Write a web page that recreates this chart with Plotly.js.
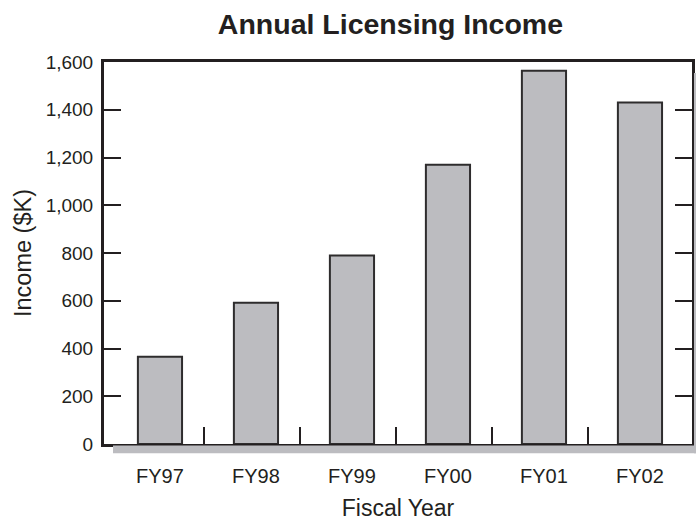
<!DOCTYPE html>
<html>
<head>
<meta charset="utf-8">
<script src="https://cdn.plot.ly/plotly-3.0.1.min.js"></script>
<style>html,body{margin:0;padding:0;background:#fff;}#chart{width:696px;height:523px;}</style>
</head>
<body>
<div id="chart"></div>
<script>
const categories = ["FY97", "FY98", "FY99", "FY00", "FY01", "FY02"];
const income = [365, 592, 790, 1170, 1563, 1430];
const yTickVals = [0, 200, 400, 600, 800, 1000, 1200, 1400, 1600];
const yTickText = ["0", "200", "400", "600", "800", "1,000", "1,200", "1,400", "1,600"];

const ink = "#231f20";
const grayFill = "#bcbcc0";
const fontFam = "Liberation Sans, Arial, Helvetica, sans-serif";

const xRange = [-0.583, 5.542];
const dividerTicks = categories.slice(0, -1).map((c, i) => i + 0.46);

const trace = {
  type: "bar",
  x: categories,
  y: income,
  marker: { color: grayFill, line: { color: "#2e2c2d", width: 2 } },
  hoverinfo: "x+y"
};
// invisible helper trace so the overlay axis (divider ticks) gets drawn
const helper = {
  type: "scatter", mode: "markers", x: [0], y: [0], xaxis: "x2",
  marker: { opacity: 0, size: 1 }, hoverinfo: "skip", showlegend: false
};

const layout = {
  width: 696,
  height: 523,
  margin: { l: 104, r: 4, t: 62, b: 79, pad: 0 },
  paper_bgcolor: "#ffffff",
  plot_bgcolor: "#ffffff",
  bargap: 0.54,
  showlegend: false,
  font: { family: fontFam, color: ink, size: 20 },
  title: {
    text: "<b>Annual Licensing Income</b>",
    font: { family: fontFam, size: 28.5, color: ink },
    x: 0.561, xanchor: "center",
    y: 0.954, yanchor: "middle", yref: "container"
  },
  xaxis: {
    type: "category",
    range: xRange,
    showgrid: false,
    zeroline: false,
    showline: true,
    linecolor: ink,
    linewidth: 3,
    mirror: true,
    ticks: "",
    ticklabelstandoff: 12,
    tickfont: { size: 20, color: ink },
    title: { text: "Fiscal Year", font: { size: 23, color: ink }, standoff: 14 },
    fixedrange: true
  },
  xaxis2: {
    overlaying: "x",
    side: "bottom",
    anchor: "y",
    range: xRange,
    showgrid: false,
    zeroline: false,
    showline: false,
    showticklabels: false,
    ticks: "inside",
    ticklen: 17,
    tickwidth: 2,
    tickcolor: ink,
    tickmode: "array",
    tickvals: dividerTicks,
    fixedrange: true
  },
  yaxis: {
    range: [0, 1600],
    showgrid: false,
    zeroline: false,
    showline: true,
    linecolor: ink,
    linewidth: 3,
    mirror: "ticks",
    ticks: "inside",
    ticklen: 17,
    tickwidth: 2,
    tickcolor: ink,
    tickmode: "array",
    tickvals: yTickVals,
    ticktext: yTickText,
    ticklabelstandoff: 4,
    tickfont: { size: 19, color: ink },
    title: { text: "Income ($K)", font: { size: 23.5, color: ink }, standoff: 8 },
    fixedrange: true
  },
  shapes: [
    { type: "rect", xref: "paper", yref: "paper", x0: 0.0153, x1: 1.03, y0: -0.004, y1: -0.024,
      fillcolor: grayFill, line: { width: 0 }, layer: "above" },
    { type: "rect", xref: "paper", yref: "paper", x0: 1.0034, x1: 1.03, y0: -0.024, y1: 0.971,
      fillcolor: grayFill, line: { width: 0 }, layer: "above" }
  ]
};

Plotly.newPlot("chart", [trace, helper], layout, { displayModeBar: false, staticPlot: true });
</script>
</body>
</html>
